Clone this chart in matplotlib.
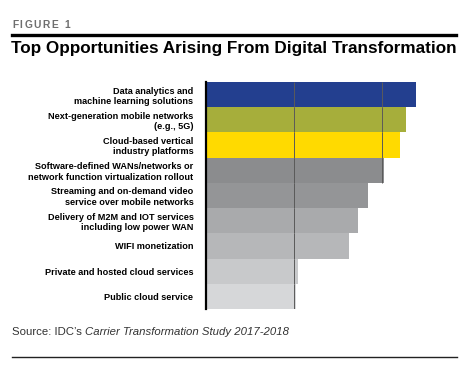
import matplotlib.pyplot as plt
from matplotlib.lines import Line2D

# Chart data (top to bottom)
categories = [
    "Data analytics and\nmachine learning solutions",
    "Next-generation mobile networks\n(e.g., 5G)",
    "Cloud-based vertical\nindustry platforms",
    "Software-defined WANs/networks or\nnetwork function virtualization rollout",
    "Streaming and on-demand video\nservice over mobile networks",
    "Delivery of M2M and IOT services\nincluding low power WAN",
    "WIFI monetization",
    "Private and hosted cloud services",
    "Public cloud service",
]
values = [47.7, 45.4, 44.0, 40.4, 36.8, 34.5, 32.4, 20.9, 20.4]
colors = ["#233f8f", "#a6ae3b", "#ffda00", "#8b8c8e", "#949597",
          "#a9aaac", "#b6b7b9", "#c8c9cb", "#d6d7d9"]
grid_at = [20, 40]

plt.rcParams['font.family'] = ['Liberation Sans', 'DejaVu Sans']

fig = plt.figure(figsize=(4.64, 3.75), dpi=100)
W, H = 464, 375

# plot area in pixels: x 206..426, y 82..309
x0, x1 = 206, 426
y0, y1 = 82, 309
ax = fig.add_axes([x0 / W, 1 - y1 / H, (x1 - x0) / W, (y1 - y0) / H])

n = len(values)
ypos = list(range(n))
ax.barh(ypos, values, height=1.0, color=colors, zorder=1)
# grid lines only show across the bars
for i, v in enumerate(values):
    for g in grid_at:
        if v > g:
            ax.vlines(g, i - 0.5, i + 0.5, color="#5a5a5a", lw=0.7, zorder=2)

ax.set_xlim(0, (x1 - x0) / 88 * 20)
ax.set_ylim(n - 0.5, -0.5)
ax.set_yticks(ypos)
ax.set_yticklabels(categories, fontsize=6.6, fontweight='bold', linespacing=1.2)
ax.tick_params(axis='y', length=0, pad=9)
ax.set_xticks([])
for s in ['top', 'right', 'bottom']:
    ax.spines[s].set_visible(False)
ax.spines['left'].set_linewidth(1.6)
ax.spines['left'].set_color('black')

r = fig.canvas.get_renderer()

# header "FIGURE 1", letter-spaced by placing each character after the last
x = 12
for ch in "FIGURE 1":
    t = fig.text(x / W, 1 - 25 / H, ch, fontsize=7.4, fontweight='bold',
                 color="#6e6e6e", va='center', ha='left')
    x = t.get_window_extent(r).x1 + 1.6

fig.add_artist(Line2D([12 / W, 456 / W], [1 - 35 / H, 1 - 35 / H],
                      color='black', lw=2.4, transform=fig.transFigure))
fig.text(11 / W, 1 - 49 / H, "Top Opportunities Arising From Digital Transformation",
         fontsize=12.3, fontweight='bold', color='black', va='center', ha='left')

# footer
src = fig.text(12 / W, 1 - 332 / H, "Source: IDC\u2019s ", fontsize=8.2,
               color="#333333", va='center', ha='left')
sb = src.get_window_extent(r)
fig.text(sb.x1 / W, 1 - 332 / H, "Carrier Transformation Study 2017-2018",
         fontsize=8.2, style='italic', color="#333333", va='center', ha='left')
fig.add_artist(Line2D([12 / W, 457 / W], [1 - 357 / H, 1 - 357 / H],
                      color='#222222', lw=1.0, transform=fig.transFigure))

fig.savefig("out.png", dpi=100)
